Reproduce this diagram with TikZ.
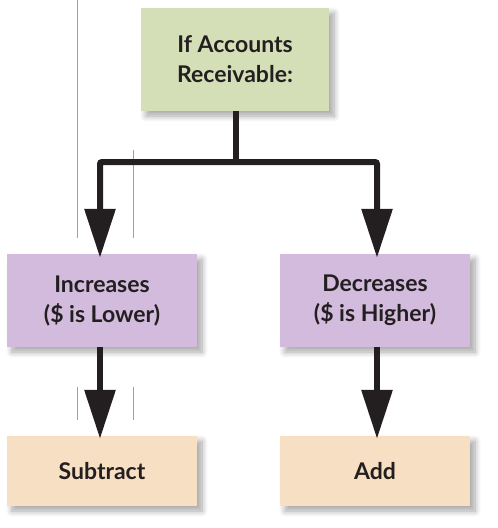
\documentclass[tikz,border=0pt]{standalone}
\usepackage{fontspec}
\setmainfont{Lato}
\usetikzlibrary{arrows.meta,shadows.blur}
\definecolor{boxgreen}{HTML}{D4DEB7}
\definecolor{boxpurple}{HTML}{D2BBDC}
\definecolor{boxpeach}{HTML}{F6DFC2}
\definecolor{inkdark}{HTML}{231F20}
\definecolor{guide}{HTML}{A0A0A0}
\tikzset{
  fbox/.style={minimum width=188pt, inner sep=0pt, align=center,
    font=\fontsize{23}{30}\selectfont\bfseries, text=inkdark,
    blur shadow={shadow xshift=5pt, shadow yshift=-5pt, shadow blur steps=8, shadow opacity=35, shadow blur radius=6pt}},
  conn/.style={draw=inkdark, line width=6pt, -{Triangle[length=49pt,width=30pt]}},
  guideline/.style={draw=guide, line width=0.8pt}
}
\begin{document}
\begin{tikzpicture}[x=1pt,y=-1pt]
\useasboundingbox (0,0) rectangle (498,528);
\draw[guideline] (77,0) -- (77,238);
\draw[guideline] (133,150) -- (133,238);
\draw[guideline] (77,387) -- (77,420);
\draw[guideline] (133,387) -- (133,420);
\node[fbox, fill=boxgreen, minimum height=103pt] (top) at (235,59.5) {If Accounts\\Receivable:};
\node[fbox, fill=boxpurple, minimum height=93pt, minimum width=190pt] (inc) at (102,300.5) {Increases\\(\$ is Lower)};
\node[fbox, fill=boxpurple, minimum height=93pt, minimum width=190pt] (dec) at (375,300.5) {Decreases\\(\$ is Higher)};
\node[fbox, fill=boxpeach, minimum height=70pt, minimum width=190pt] (sub) at (102,471) {Subtract};
\node[fbox, fill=boxpeach, minimum height=70pt, minimum width=190pt] (add) at (375,471) {Add};
\coordinate (split) at (236,162);
\draw[draw=inkdark, line width=6pt] (top.south -| split) -- (split);
\draw[conn, rounded corners=2pt] (split) -- (100,162) -- ([xshift=-2pt,yshift=-4pt]inc.north);
\draw[conn, rounded corners=2pt] (split) -- (377,162) -- ([xshift=2pt,yshift=-4pt]dec.north);
\draw[conn] ([xshift=-2pt]inc.south) -- ([xshift=-2pt,yshift=-3pt]sub.north);
\draw[conn] ([xshift=2pt]dec.south) -- ([xshift=2pt,yshift=-3pt]add.north);
\end{tikzpicture}
\end{document}
